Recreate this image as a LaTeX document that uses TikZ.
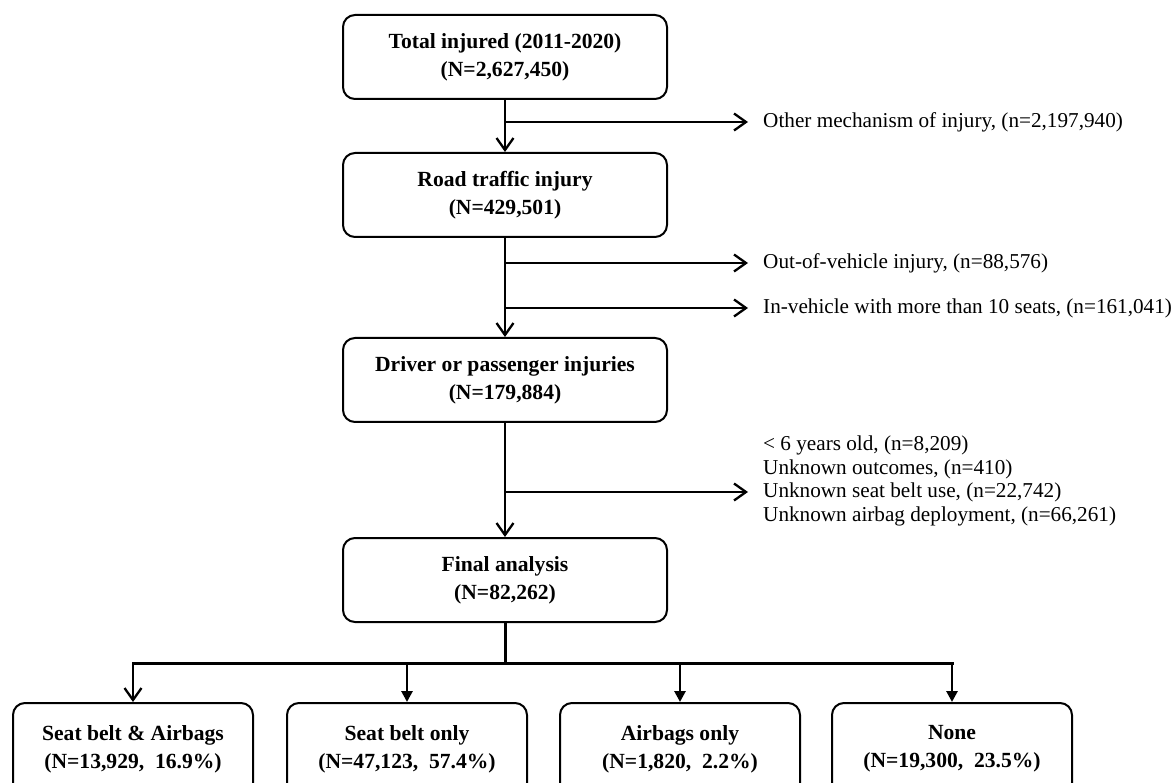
\documentclass[tikz,border=0pt]{standalone}
\usepackage{fontspec}
\setmainfont{Liberation Serif}
\usetikzlibrary{arrows.meta}
\begin{document}
\begin{tikzpicture}[x=1pt,y=-1pt,
  mainbox/.style={draw, line width=2pt, rounded corners=12pt, minimum width=324pt, minimum height=84pt, align=center, inner sep=0pt, font=\fontsize{21.6}{28}\selectfont\bfseries},
  outbox/.style={mainbox, minimum width=240pt, minimum height=92pt},
  note/.style={anchor=west, inner xsep=15pt, inner ysep=0pt, align=left, font=\fontsize{21.2}{23.5}\selectfont},
  openarrow/.style={line width=2.5pt, -{Straight Barb[length=12pt,width=17pt,line width=2.3pt]}},
  filledarrow/.style={line width=2.8pt, -{Triangle[length=11pt,width=11pt]}},
  busline/.style={line width=3pt, line cap=rect}
]
\useasboundingbox (0,0) rectangle (1176,783);
\fill[white] (0,0) rectangle (1176,783);
\clip (0,0) rectangle (1176,783);

% main column
\node[mainbox] (t1) at (505,57) {Total injured (2011-2020)\\(N=2,627,450)};
\node[mainbox] (t2) at (505,195) {Road traffic injury\\(N=429,501)};
\node[mainbox] (t3) at (505,380) {Driver or passenger injuries\\(N=179,884)};
\node[mainbox] (t4) at (505,580) {Final analysis\\(N=82,262)};

% exclusion notes
\node[note] (n1) at (748,122) {Other mechanism of injury, (n=2,197,940)};
\node[note] (n2) at (748,263) {Out-of-vehicle injury, (n=88,576)};
\node[note] (n3) at (748,308) {In-vehicle with more than 10 seats, (n=161,041)};
\node[note] (n4) at (748,481) {< 6 years old, (n=8,209)\\Unknown outcomes, (n=410)\\Unknown seat belt use, (n=22,742)\\Unknown airbag deployment, (n=66,261)};

% outcome boxes (lower edge runs past the page, as in the reference)
\node[outbox] (o1) at (133,749) {Seat belt \& Airbags\\(N=13,929, \ 16.9\%)};
\node[outbox] (o2) at (407,749) {Seat belt only\\(N=47,123, \ 57.4\%)};
\node[outbox] (o3) at (680,749) {Airbags only\\(N=1,820, \ 2.2\%)};
\node[outbox] (o4) at (952,749) {None\\(N=19,300, \ 23.5\%)};

% junctions
\coordinate (j1) at (505,122);
\coordinate (j2) at (505,263);
\coordinate (j3) at (505,308);
\coordinate (j4) at (505,492);
\coordinate (bus) at (505,663);

% vertical flow
\draw[openarrow] (t1.south) -- (t2.north);
\draw[openarrow] (t2.south) -- (t3.north);
\draw[openarrow] (t3.south) -- (t4.north);

% exclusions
\draw[openarrow] (j1) -- (n1.west);
\draw[openarrow] (j2) -- (n2.west);
\draw[openarrow] (j3) -- (n3.west);
\draw[openarrow] (j4) -- (j4 -| n4.west);

% split to outcomes
\draw[busline] (t4.south) -- (bus);
\draw[busline] (o1.north |- bus) -- (o4.north |- bus);
\draw[openarrow] (o1.north |- bus) -- (o1.north);
\draw[filledarrow] (o2.north |- bus) -- (o2.north);
\draw[filledarrow] (o3.north |- bus) -- (o3.north);
\draw[filledarrow] (o4.north |- bus) -- (o4.north);
\end{tikzpicture}
\end{document}
